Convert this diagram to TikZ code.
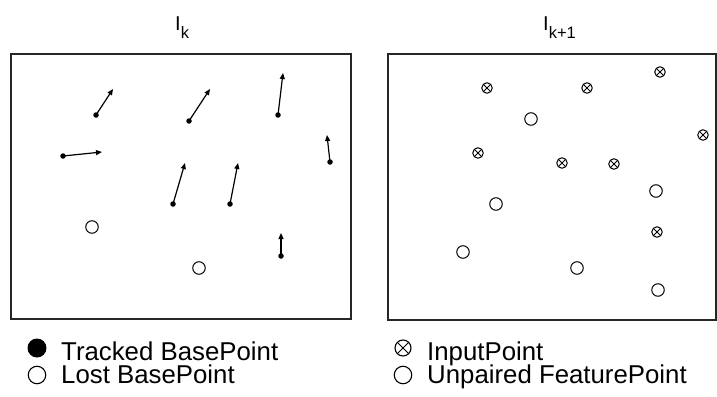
\documentclass[tikz,border=0pt]{standalone}
\usepackage{fontspec}
\setmainfont{Liberation Sans}
\usetikzlibrary{arrows.meta}
\tikzset{
  frame/.style={draw=black!85, line width=1.4pt},
  motion/.style={line width=1.2pt, -{Triangle[length=6pt,width=5pt]}},
  base/.style={circle, fill=black, inner sep=0pt, minimum size=5.5pt},
  lost/.style={circle, draw, line width=1pt, fill=white, inner sep=0pt, minimum size=12.5pt},
  inpt/.style={circle, draw, line width=1pt, inner sep=0pt, minimum size=10.5pt,
    path picture={\draw[line width=0.9pt] (path picture bounding box.north west) -- (path picture bounding box.south east)
      (path picture bounding box.north east) -- (path picture bounding box.south west);}},
  legtext/.style={anchor=base west, inner sep=0pt, font=\fontsize{25.8}{27}\selectfont},
  title/.style={anchor=base west, inner sep=0pt, font=\fontsize{20}{20}\selectfont}
}
\newcommand{\subtxt}[1]{\raisebox{-7pt}{\fontsize{16.5}{16.5}\selectfont #1}}
\begin{document}
\begin{tikzpicture}[x=1pt, y=-1pt]
\useasboundingbox (0,0) rectangle (717,396);

% image frames
\draw[frame] (11,54) rectangle (351,319);
\draw[frame] (388,54) rectangle (716,320);

% titles
\node[title] (tk) at (175,31) {I\subtxt{k}};
\node[title] (tk1) at (543,31) {I\subtxt{k+1}};

% tracked base points with motion vectors
\foreach \i/\px/\py/\qx/\qy in {
  1/96/115/113/89, 2/189/121/210/89, 3/278/115/283/73, 4/63/156/102/152,
  5/330/162/327/135, 6/173/204/185/163, 7/230/204/238/163, 8/281/256/281/233} {
  \node[base] (b\i) at (\px,\py) {};
  \coordinate (t\i) at (\qx,\qy);
  \draw[motion] (b\i.center) -- (t\i);
}

% lost base points
\node[lost] (l1) at (92,227) {};
\node[lost] (l2) at (199,268) {};

% input points
\foreach \i/\px/\py in {1/487/88, 2/587/88, 3/660/72, 4/703/135,
  5/478/153, 6/562/163, 7/614/164, 8/657/232} {
  \node[inpt] (p\i) at (\px,\py) {};
}

% unpaired feature points
\foreach \i/\px/\py in {1/531/119, 2/656/191, 3/496/204, 4/463/252, 5/577/268, 6/658/290} {
  \node[lost] (u\i) at (\px,\py) {};
}

% legend
\node[circle, fill=black, inner sep=0pt, minimum size=19pt] (lg1) at (37,348) {};
\node[legtext] (lt1) at (61,360) {Tracked BasePoint};
\node[circle, draw, line width=1.1pt, inner sep=0pt, minimum size=17.5pt] (lg2) at (37,375) {};
\node[legtext] (lt2) at (61,383) {Lost BasePoint};
\node[inpt, line width=1.1pt, minimum size=16pt] (lg3) at (403,348) {};
\node[legtext] (lt3) at (427,360) {InputPoint};
\node[circle, draw, line width=1.1pt, inner sep=0pt, minimum size=17.5pt] (lg4) at (403,375) {};
\node[legtext] (lt4) at (427,383) {Unpaired FeaturePoint};
\end{tikzpicture}
\end{document}
